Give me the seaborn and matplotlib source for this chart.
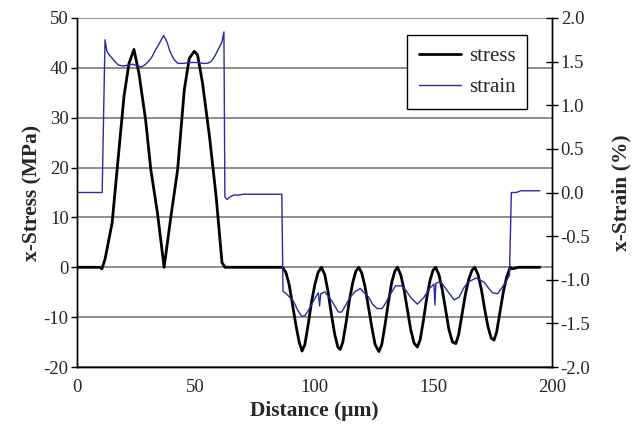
import numpy as np
import pandas as pd
import matplotlib
matplotlib.use("Agg")
import matplotlib.pyplot as plt
from matplotlib.ticker import FormatStrFormatter
from matplotlib.lines import Line2D
import seaborn as sns

# ---- data ----
stress_x = [0, 9.5, 10.5, 11.8, 14.8, 16.9, 19.8, 21.9, 24.0, 26.1, 28.9, 31.1, 33.9, 36.7,
            39.6, 42.4, 45.2, 47.3, 49.4, 50.8, 52.9, 55.8, 58.6, 61.1, 62.4, 86.5,
            88.0, 89.4, 90.8, 92.2, 93.6, 94.8, 96.0, 97.4, 98.8, 100.2, 101.6, 103.0,
            104.4, 105.8, 107.2, 108.6, 109.9, 110.9, 112.0, 113.4, 114.8, 116.2, 117.5, 118.7,
            120.0, 121.4, 122.8, 124.2, 125.6, 127.2, 128.4, 129.8, 131.2, 132.6, 133.9, 135.0,
            136.4, 137.8, 139.2, 140.6, 142.0, 143.4, 144.6, 146.0, 147.4, 148.8, 150.0, 151.1,
            152.5, 153.9, 155.3, 156.7, 158.2, 159.6, 160.8, 162.2, 163.6, 165.0, 166.4, 167.6,
            169.0, 170.4, 171.8, 173.2, 174.5, 175.7, 176.8, 178.2, 179.6, 181.0, 182.5,
            183.5, 186.0, 195.0]
stress_y = [0, 0, -0.3, 1.6, 8.9, 19.6, 34.3, 40.9, 43.7, 38.9, 29.6, 19.6, 10.9, 0,
            10.3, 19.6, 35.6, 41.9, 43.3, 42.6, 36.9, 26.3, 14.3, 0.9, 0, 0,
            -1.0, -3.5, -7.5, -11.5, -15.0, -16.8, -15.5, -11.5, -7.0, -3.5, -1.0, 0,
            -1.5, -5.0, -9.5, -13.5, -16.0, -16.5, -15.0, -11.0, -6.5, -3.0, -0.8, 0,
            -1.2, -4.0, -8.0, -12.0, -15.5, -16.9, -15.5, -11.5, -7.0, -3.0, -0.8, 0,
            -1.5, -4.5, -8.5, -12.5, -15.2, -16.0, -14.5, -10.5, -6.0, -2.5, -0.6, 0,
            -1.5, -4.5, -8.5, -12.5, -15.0, -15.3, -13.5, -9.5, -5.5, -2.5, -0.6, 0,
            -1.5, -4.5, -8.5, -12.0, -14.2, -14.6, -13.0, -9.0, -5.0, -2.0, 0,
            -0.3, 0, 0]

strain_x = [0, 10.6, 11.8, 12.6, 13.5, 14.8, 16.0, 17.5, 19.5, 21.5, 23.5, 25.5, 27.0, 28.5,
            30.0, 31.5, 33.0, 34.5, 36.5, 38.0, 39.0, 40.0, 41.0, 42.5, 45.0, 47.0, 49.0,
            51.0, 53.0, 55.0, 56.5, 58.0, 59.5, 61.0, 61.9, 62.3, 63.2, 64.5, 66.0, 68.0,
            70.0, 86.3, 86.8, 88.5, 91.1, 93.0, 94.7, 96.1, 97.5, 98.9, 100.5, 101.7, 102.2,
            102.7, 104.5, 107.3, 110.1, 111.5, 113.0, 115.1, 117.0, 119.3, 121.0, 122.9,
            124.5, 126.4, 128.5, 130.0, 131.3, 134.2, 137.0, 138.8, 140.5, 143.4, 146.2,
            148.5, 150.4, 150.8, 151.2, 153.2, 156.1, 158.9, 161.0, 162.8, 164.6, 168.1,
            171.6, 173.5, 175.1, 177.2, 178.8, 180.1, 182.2, 183.0, 185.0, 187.0, 195.0]
strain_y = [0, 0, 1.75, 1.62, 1.58, 1.54, 1.50, 1.46, 1.45, 1.46, 1.47, 1.45, 1.44, 1.46,
            1.50, 1.55, 1.63, 1.70, 1.80, 1.72, 1.63, 1.57, 1.52, 1.48, 1.48, 1.49, 1.49,
            1.49, 1.48, 1.48, 1.50, 1.56, 1.64, 1.72, 1.84, -0.05, -0.08, -0.05, -0.03, -0.03,
            -0.02, -0.02, -1.13, -1.17, -1.24, -1.35, -1.42, -1.41, -1.35, -1.28, -1.20, -1.15, -1.30,
            -1.16, -1.14, -1.24, -1.37, -1.37, -1.30, -1.20, -1.14, -1.10, -1.15, -1.20,
            -1.28, -1.33, -1.33, -1.27, -1.20, -1.07, -1.07, -1.13, -1.20, -1.28, -1.20,
            -1.10, -1.05, -1.29, -1.04, -1.02, -1.13, -1.23, -1.20, -1.10, -1.03, -0.98,
            -1.03, -1.10, -1.15, -1.16, -1.10, -1.05, -0.95, 0.0, 0.0, 0.02, 0.02]

x_ticks = [0, 50, 100, 150, 200]
left_ticks = [-20, -10, 0, 10, 20, 30, 40, 50]
right_ticks = [-2.0, -1.5, -1.0, -0.5, 0.0, 0.5, 1.0, 1.5, 2.0]

stress_df = pd.DataFrame({"Distance": stress_x, "stress": stress_y})
strain_df = pd.DataFrame({"Distance": strain_x, "strain": strain_y})

sns.set_style("white")
plt.rcParams["font.family"] = ["Liberation Serif", "DejaVu Serif"]
plt.rcParams["axes.unicode_minus"] = False

fig = plt.figure(figsize=(6.38, 4.29), dpi=100)
ax = fig.add_axes([77 / 638, 1 - 367 / 429, (551.7 - 77) / 638, (367 - 18) / 429])
ax2 = ax.twinx()

black = "#000000"
blue = "#2a2aa5"

sns.lineplot(data=stress_df, x="Distance", y="stress", ax=ax, color=black,
             linewidth=2.0, estimator=None, sort=False, zorder=3)
sns.lineplot(data=strain_df, x="Distance", y="strain", ax=ax2, color=blue,
             linewidth=1.0, estimator=None, sort=False, zorder=2)

ax.set_xlim(0, 200)
ax.set_ylim(-20, 50)
ax2.set_ylim(-2.0, 2.0)
ax.set_xticks(x_ticks)
ax.set_yticks(left_ticks)
ax2.set_yticks(right_ticks)
ax2.yaxis.set_major_formatter(FormatStrFormatter("%.1f"))

ax.yaxis.grid(True, color="#7a7a7a", linewidth=1.2)
ax.xaxis.grid(False)
ax2.grid(False)
ax.set_axisbelow(True)

for a in (ax, ax2):
    a.spines["top"].set_visible(False)
    for s in ("left", "bottom", "right"):
        a.spines[s].set_color("black")
        a.spines[s].set_linewidth(1.0)

ax.tick_params(axis="x", direction="out", length=5, width=1, color="black",
               labelsize=13.5, pad=4)
ax.tick_params(axis="y", direction="out", length=4, width=1, color="black",
               labelsize=13.5, pad=2)
ax2.tick_params(axis="y", direction="inout", length=9, width=1, color="black",
                labelsize=13.5, pad=2)

ax.set_xlabel("Distance (\u03bcm)", fontsize=15.5, fontweight="bold", labelpad=3)
ax.set_ylabel("x-Stress (MPa)", fontsize=15.5, fontweight="bold", labelpad=1)
ax2.set_ylabel("x-Strain (%)", fontsize=15.5, fontweight="bold", labelpad=15)

handles = [Line2D([], [], color=black, linewidth=2.0),
           Line2D([], [], color=blue, linewidth=1.0)]
leg = ax2.legend(handles, ["stress", "strain"], loc="upper right",
                 bbox_to_anchor=(0.948, 0.951), fontsize=15, frameon=True,
                 fancybox=False, handlelength=2.0, borderpad=0.55,
                 labelspacing=0.55, handletextpad=0.4, borderaxespad=0)
leg.get_frame().set_edgecolor("black")
leg.get_frame().set_linewidth(1.0)
leg.get_frame().set_facecolor("white")
leg.get_frame().set_alpha(1)

fig.savefig("out.png", dpi=100)
